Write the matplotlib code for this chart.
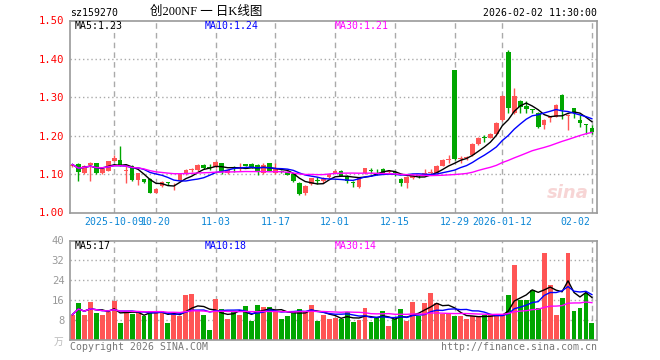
import matplotlib
matplotlib.use("Agg")
import matplotlib.pyplot as plt
import numpy as np
import pandas as pd

# ---------------- data ----------------
opens = [1.120, 1.127, 1.102, 1.124, 1.129, 1.102, 1.109, 1.135, 1.137, 1.109,
         1.122, 1.084, 1.086, 1.087, 1.052, 1.068, 1.078, 1.073, 1.083, 1.100,
         1.110, 1.110, 1.123, 1.119, 1.119, 1.128, 1.102, 1.118, 1.114, 1.125,
         1.127, 1.124, 1.104, 1.128, 1.102, 1.107, 1.105, 1.100, 1.078, 1.050,
         1.074, 1.085, 1.083, 1.093, 1.104, 1.108, 1.094, 1.078, 1.067, 1.103,
         1.110, 1.113, 1.113, 1.105, 1.105, 1.086, 1.077, 1.090, 1.095, 1.097,
         1.102, 1.104, 1.122, 1.138, 1.370, 1.140, 1.143, 1.149, 1.178, 1.196,
         1.195, 1.205, 1.240, 1.417, 1.259, 1.291, 1.278, 1.268, 1.259, 1.228,
         1.246, 1.250, 1.307, 1.252, 1.271, 1.242, 1.229, 1.219]
closes = [1.125, 1.106, 1.122, 1.130, 1.102, 1.114, 1.133, 1.143, 1.122, 1.111,
          1.084, 1.102, 1.080, 1.052, 1.062, 1.080, 1.076, 1.075, 1.100, 1.110,
          1.112, 1.124, 1.115, 1.117, 1.132, 1.109, 1.110, 1.116, 1.116, 1.122,
          1.118, 1.109, 1.124, 1.109, 1.113, 1.105, 1.098, 1.083, 1.049, 1.068,
          1.089, 1.083, 1.086, 1.099, 1.108, 1.096, 1.083, 1.076, 1.091, 1.115,
          1.108, 1.112, 1.102, 1.108, 1.103, 1.077, 1.093, 1.095, 1.094, 1.104,
          1.103, 1.122, 1.137, 1.140, 1.139, 1.142, 1.145, 1.178, 1.194, 1.194,
          1.205, 1.234, 1.304, 1.271, 1.304, 1.276, 1.270, 1.266, 1.222, 1.241,
          1.248, 1.280, 1.268, 1.254, 1.259, 1.233, 1.227, 1.209]
highs = [1.127, 1.128, 1.124, 1.132, 1.130, 1.115, 1.135, 1.150, 1.174, 1.126,
         1.124, 1.103, 1.088, 1.090, 1.063, 1.082, 1.080, 1.077, 1.102, 1.112,
         1.116, 1.126, 1.126, 1.126, 1.134, 1.130, 1.112, 1.120, 1.128, 1.127,
         1.130, 1.126, 1.130, 1.130, 1.128, 1.111, 1.107, 1.101, 1.080, 1.072,
         1.091, 1.092, 1.092, 1.100, 1.110, 1.110, 1.098, 1.083, 1.093, 1.117,
         1.117, 1.114, 1.115, 1.110, 1.108, 1.090, 1.095, 1.097, 1.098, 1.112,
         1.112, 1.124, 1.139, 1.151, 1.370, 1.147, 1.148, 1.180, 1.196, 1.202,
         1.207, 1.236, 1.306, 1.423, 1.325, 1.293, 1.291, 1.270, 1.261, 1.243,
         1.250, 1.282, 1.309, 1.256, 1.273, 1.255, 1.230, 1.229]
lows = [1.118, 1.081, 1.100, 1.082, 1.100, 1.100, 1.107, 1.133, 1.120, 1.078,
        1.082, 1.072, 1.078, 1.050, 1.050, 1.066, 1.072, 1.058, 1.081, 1.098,
        1.106, 1.108, 1.113, 1.110, 1.117, 1.100, 1.100, 1.106, 1.108, 1.120,
        1.115, 1.098, 1.101, 1.107, 1.100, 1.102, 1.097, 1.080, 1.046, 1.046,
        1.072, 1.074, 1.076, 1.091, 1.102, 1.094, 1.076, 1.066, 1.065, 1.101,
        1.102, 1.097, 1.100, 1.103, 1.095, 1.068, 1.065, 1.088, 1.090, 1.095,
        1.097, 1.102, 1.120, 1.128, 1.136, 1.130, 1.138, 1.147, 1.176, 1.183,
        1.193, 1.203, 1.238, 1.260, 1.257, 1.258, 1.259, 1.259, 1.219, 1.218,
        1.236, 1.248, 1.243, 1.214, 1.245, 1.222, 1.204, 1.205]
volumes = [10.2, 14.7, 9.9, 15.3, 10.8, 9.9, 11.2, 15.6, 7.0, 11.5,
           10.6, 11.2, 9.5, 11.8, 11.8, 11.5, 7.0, 11.1, 9.5, 18.0,
           18.4, 11.5, 9.9, 4.1, 16.4, 12.6, 8.5, 11.2, 10.2, 13.8,
           7.8, 14.2, 13.4, 13.4, 11.5, 8.5, 9.7, 11.8, 12.6, 11.8,
           14.2, 7.8, 9.9, 8.4, 9.0, 8.5, 11.2, 7.4, 8.1, 12.9,
           7.4, 8.8, 11.5, 5.7, 8.5, 12.6, 7.7, 15.4, 9.7, 15.0,
           18.7, 15.0, 10.6, 10.6, 9.7, 9.7, 8.5, 9.7, 9.3, 10.1,
           10.1, 10.1, 10.1, 17.9, 30.2, 16.2, 16.2, 20.3, 12.9, 35.0,
           22.0, 10.0, 17.0, 35.0, 11.5, 13.0, 19.0, 7.0]
tick_labels = ["2025-10-09", "10-20", "11-03", "11-17", "12-01", "12-15",
               "12-29", "2026-01-12", "02-02"]
tick_index = [7, 14, 24, 34, 44, 54, 64, 72, 87]
price_ticks = [1.00, 1.10, 1.20, 1.30, 1.40, 1.50]
vol_ticks = [8, 16, 24, 32, 40]

# ---------------- style ----------------
RED = "#FF5555"
GREEN = "#00A600"
GRID = "#AAAAAA"
FRAME = "#9A9A9A"
DATE_C = "#0A86D6"
MONO = ["DejaVu Sans Mono", "Noto Sans CJK SC"]
FS = 7.1

plt.rcParams['font.family'] = MONO

fig = plt.figure(figsize=(6.6, 3.6), dpi=100)
PH = 192.0
VH = 99.5
axp = fig.add_axes([70/660, 1-212.5/360, 527/660, PH/360])
axv = fig.add_axes([70/660, 1-340/360, 527/660, VH/360])

n = len(closes)
x = np.arange(n)
o = np.array(opens); c = np.array(closes); h = np.array(highs); l = np.array(lows)
v = np.array(volumes)
up = c >= o
cols = np.where(up, RED, GREEN)

for ax in (axp, axv):
    ax.set_xlim(-0.4, n - 1 + 0.85)
    for idx in tick_index:
        ax.axvline(idx, color=GRID, lw=1, ls=(0, (4, 3)), zorder=0)
    for s in ax.spines.values():
        s.set_color(FRAME)
        s.set_linewidth(1.2)
    ax.tick_params(length=0, pad=4)

# price panel
axp.set_ylim(1.0, 1.5)
for yv in price_ticks[1:-1]:
    axp.axhline(yv, color=GRID, lw=1, ls=(0, (1, 2)), zorder=0)

axp.vlines(x, l, h, colors=cols, lw=1, zorder=2)
body_b = np.minimum(o, c)
body_h = np.maximum(np.abs(c - o), 0.0025)
axp.bar(x, body_h, bottom=body_b, width=0.78, color=cols, zorder=3, linewidth=0)

cs = pd.Series(c)
axp.plot(x, cs.rolling(5, min_periods=1).mean(), color="black", lw=1, zorder=4)
axp.plot(x, cs.rolling(10, min_periods=1).mean(), color="#0000FF", lw=1, zorder=4)
axp.plot(x, cs.rolling(30, min_periods=1).mean(), color="#FF00FF", lw=1, zorder=4)

axp.set_yticks(price_ticks)
axp.set_yticklabels([f"{t:.2f}" for t in price_ticks], color="#FF0000", fontsize=7.6)
axp.set_xticks(tick_index)
axp.set_xticklabels([])

for idx, lab in zip(tick_index, tick_labels):
    ha = 'center'
    xx = idx
    if idx == tick_index[-1]:
        ha = 'right'
        xx = idx - 0.3
    axp.text(xx, -9.5/PH, lab, transform=axp.get_xaxis_transform(), ha=ha, va='center',
             color=DATE_C, fontsize=FS)

# watermark
axp.text(0.985, 0.10, "sina", transform=axp.transAxes, ha='right', va='center',
         fontsize=13, color="#F4C4C4", fontweight='bold', style='italic', alpha=0.7,
         family="DejaVu Sans")

# MA labels
ty = 1 - 5.5/PH
axp.text(5/527, ty, "MA5:1.23", transform=axp.transAxes, fontsize=FS, color="black", va='center')
axp.text(135/527, ty, "MA10:1.24", transform=axp.transAxes, fontsize=FS, color="#0000FF", va='center')
axp.text(265/527, ty, "MA30:1.21", transform=axp.transAxes, fontsize=FS, color="#FF00FF", va='center')

# volume panel
axv.set_ylim(0, 40)
for yv in vol_ticks[:-1]:
    axv.axhline(yv, color=GRID, lw=1, ls=(0, (1, 2)), zorder=0)
axv.bar(x, v, width=0.82, color=cols, zorder=2, linewidth=0)
vs = pd.Series(v)
axv.plot(x, vs.rolling(5, min_periods=1).mean(), color="black", lw=1, zorder=4)
axv.plot(x, vs.rolling(10, min_periods=1).mean(), color="#0000FF", lw=1, zorder=4)
axv.plot(x, vs.rolling(30, min_periods=1).mean(), color="#FF00FF", lw=1, zorder=4)
axv.set_yticks(vol_ticks)
axv.set_yticklabels([str(t) for t in vol_ticks], color="#999999", fontsize=7.6)
axv.set_xticks([])
axv.text(-0.012, -0.02, "万", transform=axv.transAxes, ha='right', va='center',
         color="#BBBBBB", fontsize=7, family=["Noto Sans CJK SC"])

vy = 1 - 5.5/VH
axv.text(5/527, vy, "MA5:17", transform=axv.transAxes, fontsize=FS, color="black", va='center')
axv.text(135/527, vy, "MA10:18", transform=axv.transAxes, fontsize=FS, color="#0000FF", va='center')
axv.text(265/527, vy, "MA30:14", transform=axv.transAxes, fontsize=FS, color="#FF00FF", va='center')

# header texts
fig.text(70/660, 1-13/360, "sz159270", fontsize=FS, color="black", va='center', ha='left')
fig.text(150/660, 1-12/360, "创200NF 一 日K线图", fontsize=9, color="black", va='center', ha='left',
         family=["Liberation Serif", "Noto Sans CJK SC"])
fig.text(597/660, 1-13/360, "2026-02-02 11:30:00", fontsize=FS, color="black", va='center', ha='right')

# footer
fig.text(70/660, 1-347/360, "Copyright 2026 SINA.COM", fontsize=FS, color="#777777", va='center', ha='left')
fig.text(597/660, 1-347/360, "http://finance.sina.com.cn", fontsize=FS, color="#777777", va='center', ha='right')

fig.savefig("out.png", dpi=100)
